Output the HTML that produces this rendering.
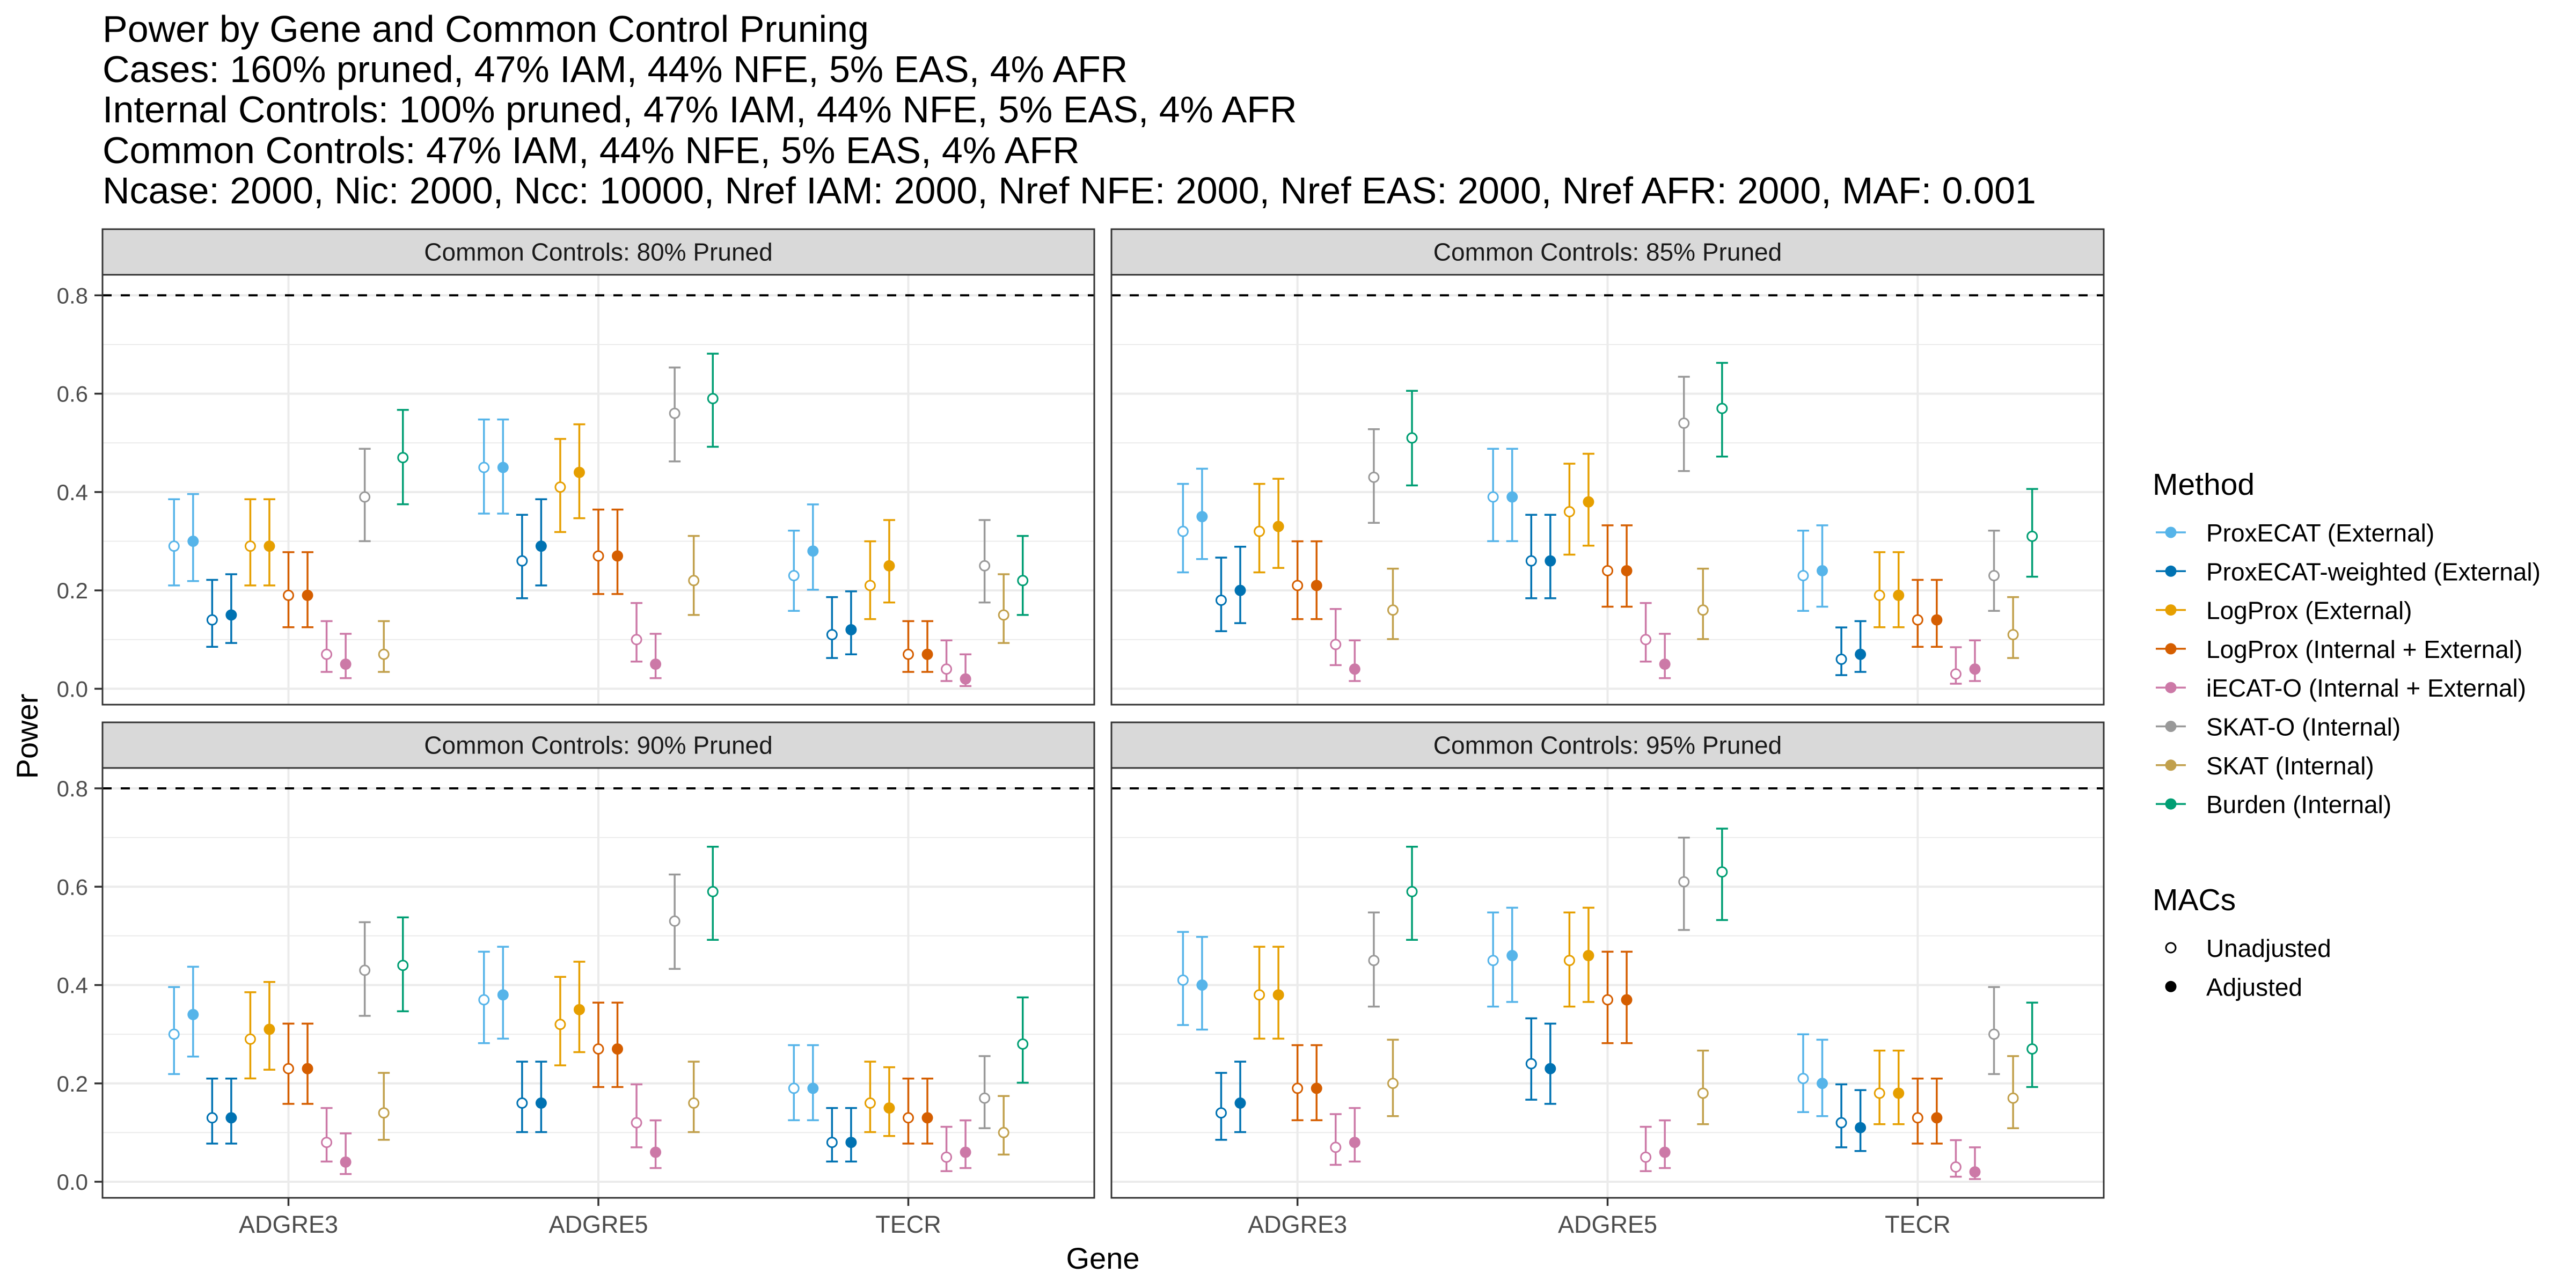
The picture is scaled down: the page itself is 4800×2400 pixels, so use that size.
<!DOCTYPE html>
<html><head><meta charset="utf-8">
<style>
html,body{margin:0;padding:0;background:#fff;}
svg{display:block;font-family:"Liberation Sans",Arial,sans-serif;}
</style></head>
<body>
<svg id="chart" width="4800" height="2400" viewBox="0 0 4800 2400" xmlns="http://www.w3.org/2000/svg">
<rect x="0" y="0" width="4800" height="2400" fill="#fff"/>
<g font-size="70" fill="#000">
<text x="191" y="78">Power by Gene and Common Control Pruning</text>
<text x="191" y="153">Cases: 160% pruned, 47% IAM, 44% NFE, 5% EAS, 4% AFR</text>
<text x="191" y="228">Internal Controls: 100% pruned, 47% IAM, 44% NFE, 5% EAS, 4% AFR</text>
<text x="191" y="304">Common Controls: 47% IAM, 44% NFE, 5% EAS, 4% AFR</text>
<text x="191" y="379">Ncase: 2000, Nic: 2000, Ncc: 10000, Nref IAM: 2000, Nref NFE: 2000, Nref EAS: 2000, Nref AFR: 2000, MAF: 0.001</text>
</g>
<text x="0" y="0" font-size="56" fill="#000" text-anchor="middle" transform="translate(70,1372) rotate(-90)">Power</text>
<text x="2055" y="2364" font-size="56" fill="#000" text-anchor="middle">Gene</text>
<g id="panels"></g>
<g id="legend"></g>
</svg>
<script>
// ---- data ----
const genes = ["ADGRE3", "ADGRE5", "TECR"];
const methods = ["ProxECAT (External)", "ProxECAT-weighted (External)", "LogProx (External)", "LogProx (Internal + External)", "iECAT-O (Internal + External)", "SKAT-O (Internal)", "SKAT (Internal)", "Burden (Internal)"];
const methodColors = ["#56B4E9", "#0072B2", "#E69F00", "#D55E00", "#CC79A7", "#999999", "#C1A04C", "#009E73"];
const macs = ["Unadjusted", "Adjusted"];
// slot order within a gene: method index and MAC index
const slotMethod = [0, 0, 1, 1, 2, 2, 3, 3, 4, 4, 5, 6, 7];
const slotMac    = [0, 1, 0, 1, 0, 1, 0, 1, 0, 1, 0, 0, 0];
const panelLabels = ["Common Controls: 80% Pruned", "Common Controls: 85% Pruned", "Common Controls: 90% Pruned", "Common Controls: 95% Pruned"];
const yTicks = [0.0, 0.2, 0.4, 0.6, 0.8];
const yTickLabels = ["0.0", "0.2", "0.4", "0.6", "0.8"];
const yMinor = [0.1, 0.3, 0.5, 0.7];
const targetPower = 0.8;
const nSim = 100;

const power80_ADGRE3 = [0.29, 0.30, 0.14, 0.15, 0.29, 0.29, 0.19, 0.19, 0.07, 0.05, 0.39, 0.07, 0.47];
const power80_ADGRE5 = [0.45, 0.45, 0.26, 0.29, 0.41, 0.44, 0.27, 0.27, 0.10, 0.05, 0.56, 0.22, 0.59];
const power80_TECR   = [0.23, 0.28, 0.11, 0.12, 0.21, 0.25, 0.07, 0.07, 0.04, 0.02, 0.25, 0.15, 0.22];
const power85_ADGRE3 = [0.32, 0.35, 0.18, 0.20, 0.32, 0.33, 0.21, 0.21, 0.09, 0.04, 0.43, 0.16, 0.51];
const power85_ADGRE5 = [0.39, 0.39, 0.26, 0.26, 0.36, 0.38, 0.24, 0.24, 0.10, 0.05, 0.54, 0.16, 0.57];
const power85_TECR   = [0.23, 0.24, 0.06, 0.07, 0.19, 0.19, 0.14, 0.14, 0.03, 0.04, 0.23, 0.11, 0.31];
const power90_ADGRE3 = [0.30, 0.34, 0.13, 0.13, 0.29, 0.31, 0.23, 0.23, 0.08, 0.04, 0.43, 0.14, 0.44];
const power90_ADGRE5 = [0.37, 0.38, 0.16, 0.16, 0.32, 0.35, 0.27, 0.27, 0.12, 0.06, 0.53, 0.16, 0.59];
const power90_TECR   = [0.19, 0.19, 0.08, 0.08, 0.16, 0.15, 0.13, 0.13, 0.05, 0.06, 0.17, 0.10, 0.28];
const power95_ADGRE3 = [0.41, 0.40, 0.14, 0.16, 0.38, 0.38, 0.19, 0.19, 0.07, 0.08, 0.45, 0.20, 0.59];
const power95_ADGRE5 = [0.45, 0.46, 0.24, 0.23, 0.45, 0.46, 0.37, 0.37, 0.05, 0.06, 0.61, 0.18, 0.63];
const power95_TECR   = [0.21, 0.20, 0.12, 0.11, 0.18, 0.18, 0.13, 0.13, 0.03, 0.02, 0.30, 0.17, 0.27];

const panelData = [
  [power80_ADGRE3, power80_ADGRE5, power80_TECR],
  [power85_ADGRE3, power85_ADGRE5, power85_TECR],
  [power90_ADGRE3, power90_ADGRE5, power90_TECR],
  [power95_ADGRE3, power95_ADGRE5, power95_TECR]
];

// ---- layout ----
const NS = "http://www.w3.org/2000/svg";
function mk(tag, attrs, parent) {
  const e = document.createElementNS(NS, tag);
  for (const k in attrs) e.setAttribute(k, attrs[k]);
  parent.appendChild(e);
  return e;
}
const panelBoxes = [
  {x0: 191, x1: 2039, stripTop: 427, top: 512, bottom: 1313, y0: 1283.4, y8: 550.3, left: true, bottomRow: false},
  {x0: 2071, x1: 3920, stripTop: 427, top: 512, bottom: 1313, y0: 1283.4, y8: 550.3, left: false, bottomRow: false},
  {x0: 191, x1: 2039, stripTop: 1346, top: 1431, bottom: 2232, y0: 2202, y8: 1469, left: true, bottomRow: true},
  {x0: 2071, x1: 3920, stripTop: 1346, top: 1431, bottom: 2232, y0: 2202, y8: 1469, left: false, bottomRow: true}
];
function wilson(p, n) {
  const z = 1.959964, z2 = z * z;
  const c = (p + z2 / (2 * n)) / (1 + z2 / n);
  const h = z * Math.sqrt(p * (1 - p) / n + z2 / (4 * n * n)) / (1 + z2 / n);
  return [Math.max(0, c - h), Math.min(1, c + h)];
}
const root = document.getElementById("panels");
panelBoxes.forEach((b, pi) => {
  const g = mk("g", {}, root);
  
  
  const unit = (b.x1 - b.x0) / 3.2;
  const xScale = v => b.x0 + (v + 0.6) * unit;   // gene index 0..2
  const yScale = v => b.y0 + (b.y8 - b.y0) * v / 0.8;

  yMinor.forEach(v => {
    const l = mk("line", {x1: b.x0, x2: b.x1, y1: yScale(v), y2: yScale(v), stroke: "#ebebeb", "stroke-width": 2}, g);
    
    
  });
  yTicks.forEach(v => {
    const l = mk("line", {x1: b.x0, x2: b.x1, y1: yScale(v), y2: yScale(v), stroke: "#ebebeb", "stroke-width": 4}, g);
    
    
  });
  genes.forEach((gn, gi) => {
    const l = mk("line", {x1: xScale(gi), x2: xScale(gi), y1: b.top, y2: b.bottom, stroke: "#ebebeb", "stroke-width": 4}, g);
    
    
  });
  const tl = mk("line", {x1: b.x0, x2: b.x1, y1: yScale(targetPower), y2: yScale(targetPower), stroke: "#000", "stroke-width": 4, "stroke-dasharray": "17 17"}, g);
  
  

  panelData[pi].forEach((vals, gi) => {
    vals.forEach((p, si) => {
      const cx = xScale(gi + (si - 6) * (0.8 / 13));
      const col = methodColors[slotMethod[si]];
      const ci = wilson(p, nSim);
      const eg = mk("g", {}, g);
      
      
      const yl = yScale(ci[0]), yh = yScale(ci[1]), yp = yScale(p);
      mk("line", {x1: cx, x2: cx, y1: yl, y2: yh, stroke: col, "stroke-width": 3.5}, eg);
      mk("line", {x1: cx - 11, x2: cx + 11, y1: yl, y2: yl, stroke: col, "stroke-width": 3.5}, eg);
      mk("line", {x1: cx - 11, x2: cx + 11, y1: yh, y2: yh, stroke: col, "stroke-width": 3.5}, eg);
      if (slotMac[si] === 0) {
        mk("circle", {cx: cx, cy: yp, r: 9, fill: "#fff", stroke: col, "stroke-width": 3}, eg);
      } else {
        mk("circle", {cx: cx, cy: yp, r: 10.5, fill: col}, eg);
      }
    });
  });

  const br = mk("rect", {x: b.x0, y: b.top, width: b.x1 - b.x0, height: b.bottom - b.top, fill: "none", stroke: "#333", "stroke-width": 3}, g);
  
  
  const st = mk("rect", {x: b.x0, y: b.stripTop, width: b.x1 - b.x0, height: b.top - b.stripTop, fill: "#d9d9d9", stroke: "#333", "stroke-width": 3}, g);
  
  
  const stt = mk("text", {x: (b.x0 + b.x1) / 2, y: (b.stripTop + b.top) / 2 + 16, "font-size": 46, fill: "#1a1a1a", "text-anchor": "middle"}, g);
  
  
  stt.textContent = panelLabels[pi];

  if (b.left) {
    yTicks.forEach((v, ti) => {
      mk("line", {x1: b.x0 - 15, x2: b.x0, y1: yScale(v), y2: yScale(v), stroke: "#333", "stroke-width": 3.5}, g);
      const t = mk("text", {x: b.x0 - 27, y: yScale(v) + 15, "font-size": 42, fill: "#4d4d4d", "text-anchor": "end"}, g);
      
      
      t.textContent = yTickLabels[ti];
    });
  }
  if (b.bottomRow) {
    genes.forEach((gn, gi) => {
      mk("line", {x1: xScale(gi), x2: xScale(gi), y1: b.bottom, y2: b.bottom + 15, stroke: "#333", "stroke-width": 3.5}, g);
      const t = mk("text", {x: xScale(gi), y: b.bottom + 65, "font-size": 45, fill: "#4d4d4d", "text-anchor": "middle"}, g);
      
      
      t.textContent = gn;
    });
  }
});

// ---- legend ----
const lg = document.getElementById("legend");
const mt = mk("text", {x: 4011, y: 922, "font-size": 57, fill: "#000"}, lg);


mt.textContent = "Method";
methods.forEach((m, i) => {
  const y = 1009 + i * 72.3;
  const e = mk("g", {}, lg);
  
  
  mk("line", {x1: 4017, x2: 4073, y1: y - 17, y2: y - 17, stroke: methodColors[i], "stroke-width": 3.5}, e);
  mk("circle", {cx: 4045, cy: y - 17, r: 10.5, fill: methodColors[i]}, e);
  const t = mk("text", {x: 4111, y: y, "font-size": 46, fill: "#000"}, e);
  t.textContent = m;
});
const mct = mk("text", {x: 4011, y: 1696, "font-size": 57, fill: "#000"}, lg);


mct.textContent = "MACs";
macs.forEach((m, i) => {
  const y = 1783 + i * 72.3;
  const e = mk("g", {}, lg);
  
  
  if (i === 0) mk("circle", {cx: 4045, cy: y - 17, r: 9, fill: "#fff", stroke: "#000", "stroke-width": 3}, e);
  else mk("circle", {cx: 4045, cy: y - 17, r: 10.5, fill: "#000"}, e);
  const t = mk("text", {x: 4111, y: y, "font-size": 46, fill: "#000"}, e);
  t.textContent = m;
});
</script>
</body></html>
